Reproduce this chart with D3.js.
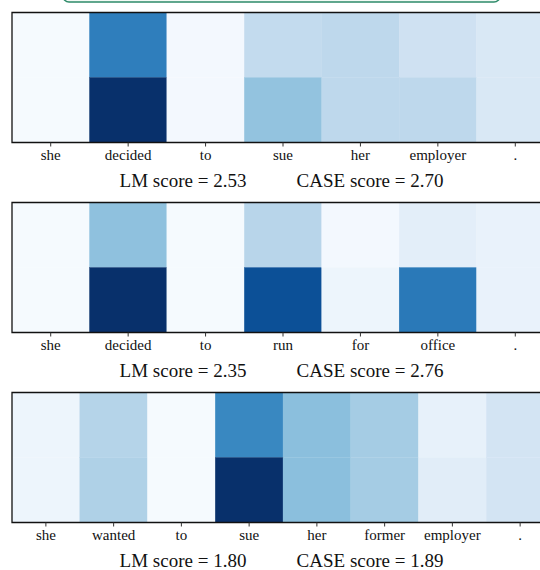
<!DOCTYPE html>
<html>
<head>
<meta charset="utf-8">
<script src="https://cdn.jsdelivr.net/npm/d3@7"></script>
<style>
  body { margin: 0; background: #fff; }
  svg { display: block; }
</style>
</head>
<body>
<div id="chart"></div>
<script>
// three sentences, two attention rows each (top row = LM, bottom row = CASE)
const tokens1 = ['she', 'decided', 'to', 'sue', 'her', 'employer', '.'];
const top1 = [0.01, 0.70, 0.02, 0.25, 0.27, 0.20, 0.15];
const bottom1 = [0.01, 1.00, 0.02, 0.40, 0.27, 0.27, 0.15];
const scores1 = ['LM score = 2.53', 'CASE score = 2.70'];

const tokens2 = ['she', 'decided', 'to', 'run', 'for', 'office', '.'];
const top2 = [0.01, 0.41, 0.01, 0.29, 0.02, 0.10, 0.07];
const bottom2 = [0.01, 1.00, 0.01, 0.88, 0.05, 0.72, 0.07];
const scores2 = ['LM score = 2.35', 'CASE score = 2.76'];

const tokens3 = ['she', 'wanted', 'to', 'sue', 'her', 'former', 'employer', '.'];
const top3 = [0.05, 0.30, 0.01, 0.66, 0.42, 0.35, 0.08, 0.18];
const bottom3 = [0.05, 0.32, 0.01, 1.00, 0.42, 0.35, 0.11, 0.18];
const scores3 = ['LM score = 1.80', 'CASE score = 1.89'];

const panels = [
  { tokens: tokens1, rows: [top1, bottom1], scores: scores1 },
  { tokens: tokens2, rows: [top2, bottom2], scores: scores2 },
  { tokens: tokens3, rows: [top3, bottom3], scores: scores3 }
];

const W = 540, H = 570;
const left = 12, plotW = 542, plotH = 130, gap = 190, top0 = 12.5;
const font = '"Liberation Serif", "DejaVu Serif", serif';

const color = d3.scaleSequential(d3.interpolateBlues).domain([0, 1]);

const svg = d3.select('#chart').append('svg')
  .attr('width', W)
  .attr('height', H);

// bottom of a callout box that sits above the figure
svg.append('rect')
  .attr('x', 63).attr('y', -30)
  .attr('width', 437).attr('height', 32)
  .attr('rx', 6)
  .attr('fill', '#f3faf5')
  .attr('stroke', '#2e8b6a')
  .attr('stroke-width', 1.5);

panels.forEach((p, i) => {
  let y0 = top0 + i * gap;
  let g = svg.append('g').attr('transform', `translate(${left},${y0})`);

  let x = d3.scaleBand().domain(p.tokens).range([0, plotW]);
  let y = d3.scaleBand().domain([0, 1]).range([0, plotH]);

  let cells = [];
  p.rows.forEach((row, r) => row.forEach((v, c) => cells.push({ r, t: p.tokens[c], v })));

  g.selectAll('rect.cell')
    .data(cells)
    .join('rect')
    .attr('class', 'cell')
    .attr('x', d => x(d.t))
    .attr('y', d => y(d.r))
    .attr('width', x.bandwidth())
    .attr('height', y.bandwidth())
    .attr('fill', d => color(d.v))
    .attr('stroke', d => color(d.v))
    .attr('stroke-width', 0.3);

  // frame: left, top, bottom (right side falls off the page)
  g.append('path')
    .attr('d', `M${plotW},0H0V${plotH}H${plotW}`)
    .attr('fill', 'none')
    .attr('stroke', '#111')
    .attr('stroke-width', 1.3);

  let axis = d3.axisBottom(x).tickSize(4).tickPadding(3);
  let ax = g.append('g')
    .attr('transform', `translate(0,${plotH})`)
    .call(axis);
  ax.select('.domain').remove();
  ax.selectAll('line').attr('stroke', '#333');
  ax.selectAll('text')
    .attr('font-family', font)
    .attr('font-size', 15)
    .attr('fill', '#111');

  g.selectAll('text.score')
    .data(p.scores)
    .join('text')
    .attr('class', 'score')
    .attr('x', (d, k) => k === 0 ? 171 : 358)
    .attr('y', plotH + 44)
    .attr('text-anchor', 'middle')
    .attr('font-family', font)
    .attr('font-size', 19)
    .attr('fill', '#111')
    .text(d => d);
});
</script>
</body>
</html>
